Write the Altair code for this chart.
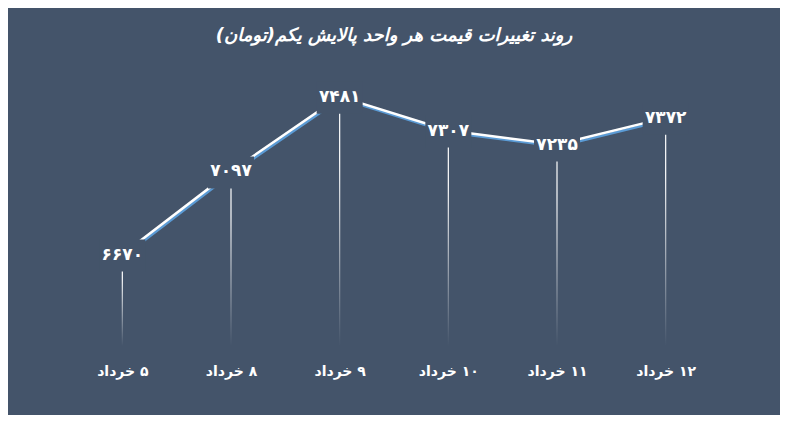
import altair as alt
import pandas as pd

# ---- data ----
days = ["۵ خرداد", "۸ خرداد", "۹ خرداد", "۱۰ خرداد", "۱۱ خرداد", "۱۲ خرداد"]
prices = [6670, 7097, 7481, 7307, 7235, 7372]
title_text = "روند تغییرات قیمت هر واحد پالایش یکم(تومان)"

BG = "#44546A"
FONT = "DejaVu Sans"
W, H = 652, 292
Y_MIN, Y_MAX = 6200, 7700

to_fa = str.maketrans("0123456789", "۰۱۲۳۴۵۶۷۸۹")
RLM = "\u200f"
df = pd.DataFrame({
    "day": [RLM + d for d in days],
    "price": prices,
    "label": [str(p).translate(to_fa) for p in prices],
})

x = alt.X(
    "day:N", sort=None,
    scale=alt.Scale(type="point", padding=0.5),
    axis=alt.Axis(title=None, labelAngle=0, domain=False, ticks=False, grid=False,
                  labelColor="white", labelFont=FONT, labelFontSize=14,
                  labelFontWeight="bold", labelPadding=18),
)
y = alt.Y("price:Q", scale=alt.Scale(domain=[Y_MIN, Y_MAX], zero=False, nice=False), axis=None)

base = alt.Chart(df)

grad = alt.Gradient(gradient="linear",
                    stops=[alt.GradientStop(color="#ffffff", offset=0),
                           alt.GradientStop(color="#ffffff", offset=0.25),
                           alt.GradientStop(color=BG, offset=1)],
                    x1=0, x2=0, y1=0, y2=1)

drops = base.mark_bar(width=1.2, fill=grad, stroke=None).encode(
    x=x, y=y, y2=alt.datum(Y_MIN))

shadow = base.mark_line(color="#5B9BD5", strokeWidth=2.5, xOffset=1, yOffset=2).encode(x=x, y=y)
line = base.mark_line(color="white", strokeWidth=2.5).encode(x=x, y=y)
boxes = base.mark_point(shape="M-1,-0.65L1,-0.65L1,0.74L-1,0.74Z", size=2116, filled=True,
                        color=BG, opacity=1, strokeWidth=0).encode(x=x, y=y)
labels = base.mark_text(font=FONT, fontSize=17, fontWeight="bold", color="white",
                        align="center", baseline="middle").encode(x=x, y=y, text="label:N")

chart = alt.layer(shadow, line, drops, boxes, labels).properties(
    width=W, height=H,
    title=alt.TitleParams(RLM + title_text + RLM, font=FONT, fontSize=18, fontWeight="bold",
                          fontStyle="italic", color="white", anchor="middle", offset=9),
    padding={"left": 60, "top": 46, "right": 60, "bottom": 69},
    autosize=alt.AutoSizeParams(type="none"),
    background=BG,
).configure_view(stroke=None)

chart.save("out.html", embed_options={"renderer": "svg", "actions": False})
